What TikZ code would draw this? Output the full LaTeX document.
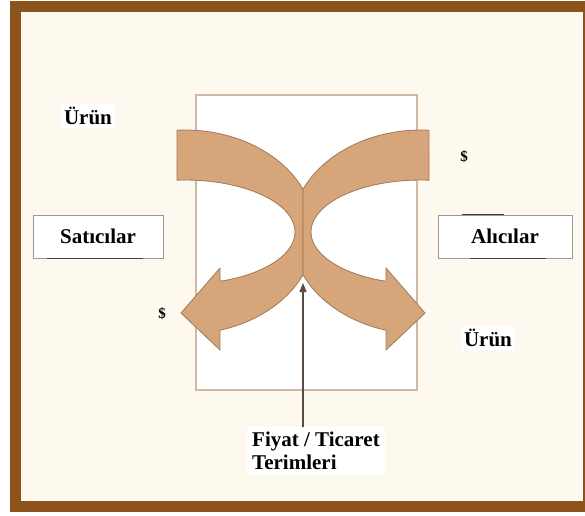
\documentclass[tikz,border=0pt]{standalone}
\usepackage{fontspec}
\setmainfont{Liberation Serif}
\usetikzlibrary{arrows.meta, positioning, calc}
\definecolor{framebrown}{RGB}{140, 84, 28}
\definecolor{cream}{RGB}{253, 249, 238}
\definecolor{swooshtan}{RGB}{215, 165, 122}
\definecolor{swooshedge}{RGB}{160, 120, 90}
\definecolor{marketline}{RGB}{205, 185, 165}
\definecolor{pointer}{RGB}{90, 75, 65}
\tikzset{
    outerframe/.style = {draw=framebrown, line width=11pt, fill=cream},
    market/.style = {rectangle, draw=marketline, line width=1.5pt, fill=white, minimum width=221pt, minimum height=295pt},
    party/.style = {rectangle, draw=gray!80, line width=1pt, fill=white, minimum width=130pt, minimum height=43pt, font=\fontsize{21}{23}\selectfont\bfseries},
    tag/.style = {fill=white, font=\fontsize{21}{23}\selectfont\bfseries},
    dollar/.style = {font=\fontsize{15}{17}\selectfont\bfseries},
    swoosh/.style = {fill=swooshtan, draw=swooshedge, line width=0.8pt, line join=round},
    rule/.style = {draw=black!75, line width=1.5pt},
    uparrow/.style = {draw=pointer, line width=1.3pt, -{Triangle[length=9pt, width=7pt]}}
}

\begin{document}
\begin{tikzpicture}[x=1pt, y=-1pt]
\useasboundingbox (0,0) rectangle (585,515);
% Frame
\path[outerframe] (15,6) rectangle (588,506);

% Nodes
\node (market) [market] at (306.5,242.5) {};

\node (sellers) [party] at (98,236.5) {Satıcılar};
\node (buyers) [party, minimum width=134pt] at (505,236.5) {Alıcılar};

\node (product1) [tag] at (88,116) {Ürün};
\node (product2) [tag] at (488,338) {Ürün};
\node (money1) [dollar] at (162,314) {\$};
\node (money2) [dollar] at (464,157) {\$};

\node (terms) [tag, align=left, anchor=north west, inner sep=5pt] at (247,427) {Fiyat / Ticaret\\Terimleri};
\coordinate (tip) at (303,283);

% Swooshes
\foreach \s in {-1,1}
    \path[swoosh] plot[domain=-93.5:-24.8, samples=30] ({303+(\s)*(118-130*cos(\x))}, {232+102*sin(\x)})
        -- plot[domain=24.8:74.4, samples=30] ({303+(\s)*(118-130*cos(\x))}, {232+102*sin(\x)})
        -- ({303+(\s)*83}, 350) -- ({303+(\s)*122}, 313) -- ({303+(\s)*83}, 268)
        -- plot[domain=71.4:-94.2, samples=40] ({303+(\s)*(118-110*cos(\x))}, {232+52*sin(\x)})
        -- cycle;

% Rules
\draw[rule] ([xshift=14pt]sellers.south west) -- ([xshift=-21pt]sellers.south east);
\draw[rule] ([xshift=32pt]buyers.south west) -- ([xshift=-27pt]buyers.south east);
\draw[rule] ([xshift=24pt]buyers.north west) -- ([xshift=-69pt]buyers.north east);

% Arrows
\draw [uparrow] (terms.north -| tip) -- (tip);

\end{tikzpicture}
\end{document}
